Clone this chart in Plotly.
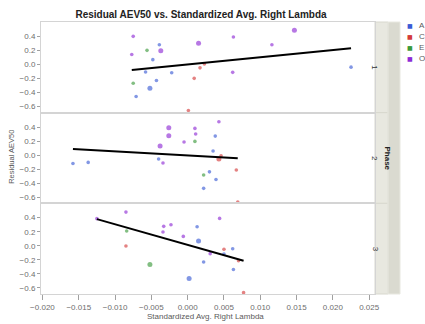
import numpy as np
import plotly.graph_objects as go
from plotly.subplots import make_subplots

# Standardized Avg. Right Lambda (x) and Residual AEV50 (y) per phase and group
groups = ["A", "C", "E", "O"]
group_colors = {"A": "#3B5BD6", "C": "#D43A3A", "E": "#3A9A3A", "O": "#8E2BD6"}

phase1_x = [-0.0039, -0.0048, -0.0058, -0.0022, -0.0043, -0.0052, -0.0071, 0.0225,
            0.0023, 0.0017, 0.0009, 0.0001,
            -0.0056, -0.0075,
            -0.0075, -0.0037, -0.0077, 0.0015, 0.0063, 0.0062, 0.0116, 0.0147]
phase1_y = [0.28, 0.067, -0.11, -0.12, -0.23, -0.34, -0.46, -0.04,
            0.005, -0.05, -0.20, -0.66,
            0.20, -0.27,
            0.40, 0.196, 0.14, 0.30, 0.39, -0.114, 0.28, 0.486]
phase1_g = ["A"] * 8 + ["C"] * 4 + ["E"] * 2 + ["O"] * 8
phase1_n = [1, 1, 1, 1, 1, 2, 1, 1,
            1, 1, 1, 1,
            1, 1,
            1, 2, 1, 2, 1, 1, 1, 2]

phase2_x = [0.0038, 0.0035, -0.0158, -0.0137, -0.0040, 0.0030, 0.0039, 0.0022,
            0.0046, 0.0043, 0.0067, 0.0069,
            0.0010, 0.0022,
            -0.0026, -0.0026, 0.0010, 0.0011, 0.0043, -0.0005, -0.0038, -0.0034]
phase2_y = [0.27, 0.057, -0.12, -0.105, -0.057, -0.24, -0.35, -0.476,
            -0.01, -0.057, -0.214, -0.67,
            0.195, -0.286,
            0.39, 0.276, 0.38, 0.30, 0.476, 0.186, 0.13, -0.114]
phase2_g = ["A"] * 8 + ["C"] * 4 + ["E"] * 2 + ["O"] * 8
phase2_n = [1, 1, 1, 1, 1, 1, 1, 1,
            1, 2, 1, 1,
            1, 1,
            2, 2, 1, 1, 1, 1, 2, 1]

phase3_x = [0.0013, 0.0015, 0.0062, 0.0050, 0.0022, 0.0063, 0.0002,
            -0.0085, 0.0050, 0.0070, 0.0077,
            -0.0084, -0.0052,
            -0.0085, 0.0044, -0.0033, -0.0023, -0.0034, -0.0006, 0.0031, -0.0125]
phase3_y = [0.27, 0.067, -0.043, -0.12, -0.233, -0.34, -0.467,
            -0.005, -0.05, -0.214, -0.67,
            0.21, -0.27,
            0.48, 0.39, 0.276, 0.30, 0.195, 0.133, -0.114, 0.386]
phase3_g = ["A"] * 7 + ["C"] * 4 + ["E"] * 2 + ["O"] * 8
phase3_n = [1, 2, 1, 1, 1, 1, 2,
            1, 1, 1, 1,
            1, 2,
            1, 1, 1, 1, 1, 1, 1, 1]

# Linear fit per phase: intercept, slope
fit_intercept = [-0.002, -0.007, 0.011]
fit_slope = [10.3, -5.86, -29.5]

phase_labels = ["1", "2", "3"]
phases = [
    (phase1_x, phase1_y, phase1_g, phase1_n),
    (phase2_x, phase2_y, phase2_g, phase2_n),
    (phase3_x, phase3_y, phase3_g, phase3_n),
]

x_ticks = [-0.020, -0.015, -0.010, -0.005, 0.000, 0.005, 0.010, 0.015, 0.020, 0.025]
y_ticks = [-0.6, -0.4, -0.2, 0.0, 0.2, 0.4]

FONT = "Liberation Sans"
TICK_COLOR = "#6E6E6E"
EDGE = "#D4D4D4"

fig = make_subplots(rows=3, cols=1, shared_xaxes=True, vertical_spacing=0)

for i, (xs, ys, gs, ns) in enumerate(phases):
    row = i + 1
    xs = np.array(xs)
    ys = np.array(ys)
    gs = np.array(gs)
    ns = np.array(ns)
    for g in groups:
        m = gs == g
        fig.add_trace(
            go.Scatter(
                x=xs[m], y=ys[m], mode="markers", name=g, showlegend=False,
                marker=dict(color=group_colors[g], size=(3.6 + 1.4 * (ns[m] - 1)).tolist(),
                            line=dict(width=0)),
                opacity=0.9,
            ),
            row=row, col=1,
        )
    fx = np.array([xs.min(), xs.max()])
    fy = fit_intercept[i] + fit_slope[i] * fx
    fig.add_trace(
        go.Scatter(x=fx, y=fy, mode="lines", showlegend=False,
                   line=dict(color="black", width=2)),
        row=row, col=1,
    )

for row in range(1, 4):
    fig.update_yaxes(
        range=[-0.69, 0.605], tickvals=y_ticks, tickformat=".1f",
        ticks="outside", ticklen=3, tickcolor="#A0A0A0",
        showgrid=False, zeroline=False,
        showline=True, linecolor=EDGE, mirror=True, linewidth=1,
        tickfont=dict(family=FONT, size=8, color=TICK_COLOR),
        row=row, col=1,
    )
    fig.update_xaxes(
        range=[-0.0202, 0.0258], tickvals=x_ticks, tickformat=".3f",
        showgrid=False, zeroline=False,
        showline=True, linecolor=EDGE, mirror=True, linewidth=1,
        row=row, col=1,
    )
fig.update_xaxes(ticks="outside", ticklen=5, tickcolor="#A0A0A0",
                 tickfont=dict(family=FONT, size=8, color=TICK_COLOR), row=3, col=1)

# Right-hand strips: per-panel phase level, then the shared "Phase" header
shapes = []
annotations = []
strip_in = 13 / 334
strip_out = 25 / 334
for i, lab in enumerate(phase_labels):
    yref = "y domain" if i == 0 else f"y{i + 1} domain"
    shapes.append(dict(type="rect", xref="paper", yref=yref, x0=1.0, x1=1 + strip_in,
                       y0=0, y1=1, fillcolor="#E8E8E0", line=dict(color="#D8D8CE", width=1),
                       layer="below"))
    annotations.append(dict(text=lab, xref="paper", yref=yref, x=1 + strip_in / 2, y=0.5,
                            showarrow=False, textangle=90,
                            font=dict(family=FONT, size=8, color="#333333")))
shapes.append(dict(type="rect", xref="paper", yref="paper", x0=1 + strip_in, x1=1 + strip_out,
                   y0=0, y1=1, fillcolor="#DADAD0", line=dict(color="#E8E8E0", width=1),
                   layer="below"))
annotations.append(dict(text="<b>Phase</b>", xref="paper", yref="paper",
                        x=1 + (strip_in + strip_out) / 2, y=0.5, showarrow=False,
                        textangle=90, font=dict(family=FONT, size=8, color="#222222")))

# Axis titles
annotations.append(dict(text="Standardized Avg. Right Lambda", xref="paper", yref="paper",
                        x=0.494, y=-0.082, yanchor="middle", showarrow=False,
                        font=dict(family=FONT, size=8, color="#5A5A5A")))
annotations.append(dict(text="Residual AEV50", xref="paper", yref="paper",
                        x=-0.087, y=0.504, xanchor="center", showarrow=False, textangle=-90,
                        font=dict(family=FONT, size=7.5, color="#5A5A5A")))

# Group legend (compact)
for k, g in enumerate(groups):
    ly = 1 - (4 + 10.7 * k) / 272
    annotations.append(dict(text="■", xref="paper", yref="paper", x=(410 - 41) / 334, y=ly,
                            xanchor="center", yanchor="middle", showarrow=False,
                            font=dict(family="DejaVu Sans", size=6, color=group_colors[g])))
    annotations.append(dict(text=g, xref="paper", yref="paper", x=(417 - 41) / 334, y=ly,
                            xanchor="left", yanchor="middle", showarrow=False,
                            font=dict(family=FONT, size=8, color="#5A5A5A")))

fig.update_layout(
    width=425, height=324,
    margin=dict(l=41, r=50, t=22, b=30),
    paper_bgcolor="white", plot_bgcolor="white",
    title=dict(text="<b>Residual AEV50 vs. Standardized Avg. Right Lambda</b>",
               x=(201) / 425, xanchor="center", y=1 - 14 / 324, yanchor="middle",
               font=dict(family=FONT, size=10, color="#222222")),
    shapes=shapes, annotations=annotations,
    showlegend=False,
)

fig.write_html("out.html")
